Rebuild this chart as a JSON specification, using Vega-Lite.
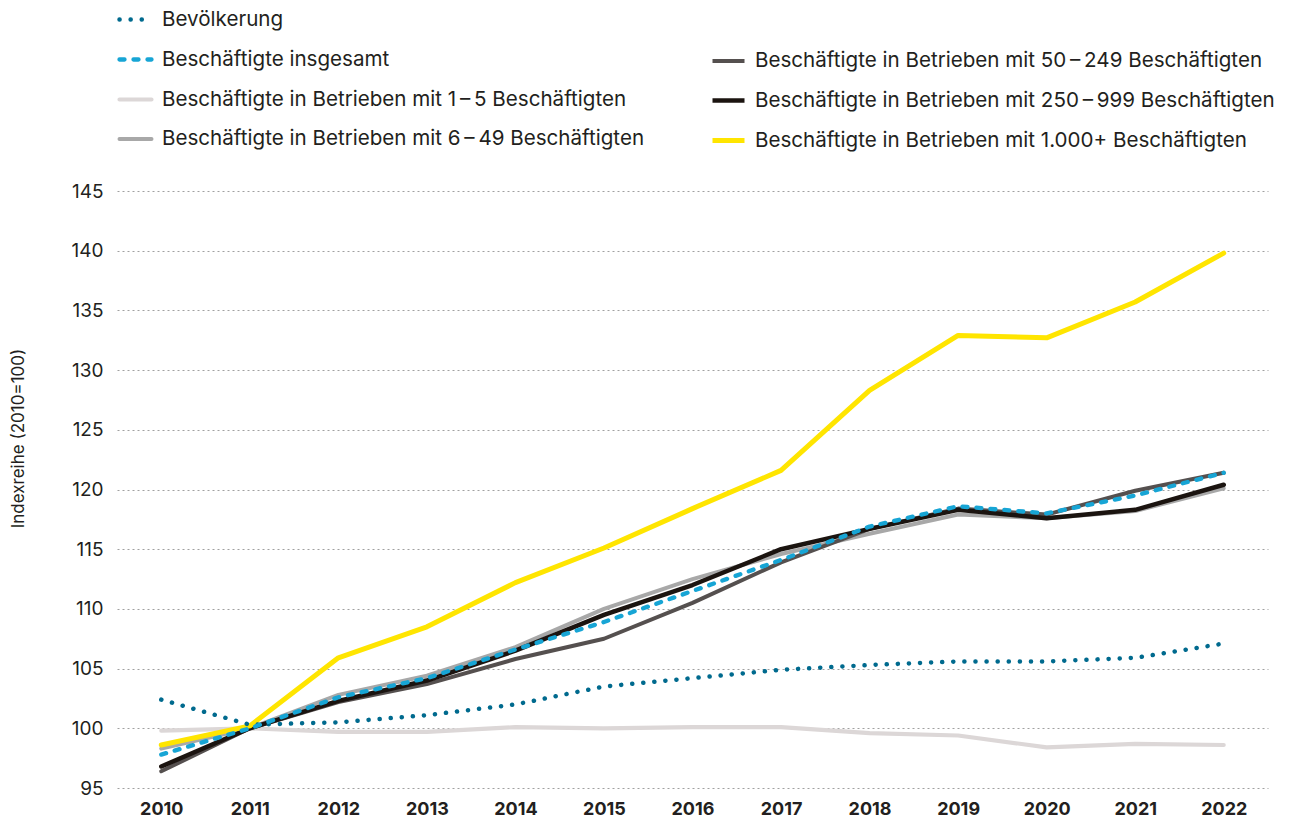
{
  "$schema": "https://vega.github.io/schema/vega-lite/v6.json",
  "width": 1151,
  "height": 597,
  "autosize": {"type": "none"},
  "padding": {"left": 117, "top": 191, "right": 22, "bottom": 37},
  "background": "white",
  "config": {
    "view": {"stroke": null},
    "font": "Inter",
    "axis": {"domain": false, "ticks": false, "labelColor": "#231f20"},
    "legend": {
      "orient": "none",
      "symbolType": "stroke",
      "symbolSize": 1024,
      "labelFontSize": 20.6,
      "labelColor": "#231f20",
      "labelOffset": 8,
      "labelLimit": 0,
      "rowPadding": 10,
      "padding": 0,
      "title": null
    }
  },
  "data": {
    "values": [
      {"Jahr": "2010", "Reihe": "Bevölkerung", "Wert": 102.4},
      {"Jahr": "2011", "Reihe": "Bevölkerung", "Wert": 100.3},
      {"Jahr": "2012", "Reihe": "Bevölkerung", "Wert": 100.5},
      {"Jahr": "2013", "Reihe": "Bevölkerung", "Wert": 101.1},
      {"Jahr": "2014", "Reihe": "Bevölkerung", "Wert": 102.0},
      {"Jahr": "2015", "Reihe": "Bevölkerung", "Wert": 103.5},
      {"Jahr": "2016", "Reihe": "Bevölkerung", "Wert": 104.2},
      {"Jahr": "2017", "Reihe": "Bevölkerung", "Wert": 104.9},
      {"Jahr": "2018", "Reihe": "Bevölkerung", "Wert": 105.3},
      {"Jahr": "2019", "Reihe": "Bevölkerung", "Wert": 105.6},
      {"Jahr": "2020", "Reihe": "Bevölkerung", "Wert": 105.6},
      {"Jahr": "2021", "Reihe": "Bevölkerung", "Wert": 105.9},
      {"Jahr": "2022", "Reihe": "Bevölkerung", "Wert": 107.1},
      {"Jahr": "2010", "Reihe": "Beschäftigte insgesamt", "Wert": 97.8},
      {"Jahr": "2011", "Reihe": "Beschäftigte insgesamt", "Wert": 100.0},
      {"Jahr": "2012", "Reihe": "Beschäftigte insgesamt", "Wert": 102.6},
      {"Jahr": "2013", "Reihe": "Beschäftigte insgesamt", "Wert": 104.2},
      {"Jahr": "2014", "Reihe": "Beschäftigte insgesamt", "Wert": 106.6},
      {"Jahr": "2015", "Reihe": "Beschäftigte insgesamt", "Wert": 108.9},
      {"Jahr": "2016", "Reihe": "Beschäftigte insgesamt", "Wert": 111.5},
      {"Jahr": "2017", "Reihe": "Beschäftigte insgesamt", "Wert": 114.1},
      {"Jahr": "2018", "Reihe": "Beschäftigte insgesamt", "Wert": 116.9},
      {"Jahr": "2019", "Reihe": "Beschäftigte insgesamt", "Wert": 118.6},
      {"Jahr": "2020", "Reihe": "Beschäftigte insgesamt", "Wert": 118.0},
      {"Jahr": "2021", "Reihe": "Beschäftigte insgesamt", "Wert": 119.5},
      {"Jahr": "2022", "Reihe": "Beschäftigte insgesamt", "Wert": 121.4},
      {"Jahr": "2010", "Reihe": "Beschäftigte in Betrieben mit 1\u2009–\u20095 Beschäftigten", "Wert": 99.8},
      {"Jahr": "2011", "Reihe": "Beschäftigte in Betrieben mit 1\u2009–\u20095 Beschäftigten", "Wert": 100.0},
      {"Jahr": "2012", "Reihe": "Beschäftigte in Betrieben mit 1\u2009–\u20095 Beschäftigten", "Wert": 99.7},
      {"Jahr": "2013", "Reihe": "Beschäftigte in Betrieben mit 1\u2009–\u20095 Beschäftigten", "Wert": 99.7},
      {"Jahr": "2014", "Reihe": "Beschäftigte in Betrieben mit 1\u2009–\u20095 Beschäftigten", "Wert": 100.1},
      {"Jahr": "2015", "Reihe": "Beschäftigte in Betrieben mit 1\u2009–\u20095 Beschäftigten", "Wert": 100.0},
      {"Jahr": "2016", "Reihe": "Beschäftigte in Betrieben mit 1\u2009–\u20095 Beschäftigten", "Wert": 100.1},
      {"Jahr": "2017", "Reihe": "Beschäftigte in Betrieben mit 1\u2009–\u20095 Beschäftigten", "Wert": 100.1},
      {"Jahr": "2018", "Reihe": "Beschäftigte in Betrieben mit 1\u2009–\u20095 Beschäftigten", "Wert": 99.6},
      {"Jahr": "2019", "Reihe": "Beschäftigte in Betrieben mit 1\u2009–\u20095 Beschäftigten", "Wert": 99.4},
      {"Jahr": "2020", "Reihe": "Beschäftigte in Betrieben mit 1\u2009–\u20095 Beschäftigten", "Wert": 98.4},
      {"Jahr": "2021", "Reihe": "Beschäftigte in Betrieben mit 1\u2009–\u20095 Beschäftigten", "Wert": 98.7},
      {"Jahr": "2022", "Reihe": "Beschäftigte in Betrieben mit 1\u2009–\u20095 Beschäftigten", "Wert": 98.6},
      {"Jahr": "2010", "Reihe": "Beschäftigte in Betrieben mit 6\u2009–\u200949 Beschäftigten", "Wert": 98.3},
      {"Jahr": "2011", "Reihe": "Beschäftigte in Betrieben mit 6\u2009–\u200949 Beschäftigten", "Wert": 100.0},
      {"Jahr": "2012", "Reihe": "Beschäftigte in Betrieben mit 6\u2009–\u200949 Beschäftigten", "Wert": 102.8},
      {"Jahr": "2013", "Reihe": "Beschäftigte in Betrieben mit 6\u2009–\u200949 Beschäftigten", "Wert": 104.4},
      {"Jahr": "2014", "Reihe": "Beschäftigte in Betrieben mit 6\u2009–\u200949 Beschäftigten", "Wert": 106.8},
      {"Jahr": "2015", "Reihe": "Beschäftigte in Betrieben mit 6\u2009–\u200949 Beschäftigten", "Wert": 110.0},
      {"Jahr": "2016", "Reihe": "Beschäftigte in Betrieben mit 6\u2009–\u200949 Beschäftigten", "Wert": 112.5},
      {"Jahr": "2017", "Reihe": "Beschäftigte in Betrieben mit 6\u2009–\u200949 Beschäftigten", "Wert": 114.6},
      {"Jahr": "2018", "Reihe": "Beschäftigte in Betrieben mit 6\u2009–\u200949 Beschäftigten", "Wert": 116.3},
      {"Jahr": "2019", "Reihe": "Beschäftigte in Betrieben mit 6\u2009–\u200949 Beschäftigten", "Wert": 117.9},
      {"Jahr": "2020", "Reihe": "Beschäftigte in Betrieben mit 6\u2009–\u200949 Beschäftigten", "Wert": 117.6},
      {"Jahr": "2021", "Reihe": "Beschäftigte in Betrieben mit 6\u2009–\u200949 Beschäftigten", "Wert": 118.2},
      {"Jahr": "2022", "Reihe": "Beschäftigte in Betrieben mit 6\u2009–\u200949 Beschäftigten", "Wert": 120.1},
      {"Jahr": "2010", "Reihe": "Beschäftigte in Betrieben mit 50\u2009–\u2009249 Beschäftigten", "Wert": 96.4},
      {"Jahr": "2011", "Reihe": "Beschäftigte in Betrieben mit 50\u2009–\u2009249 Beschäftigten", "Wert": 100.0},
      {"Jahr": "2012", "Reihe": "Beschäftigte in Betrieben mit 50\u2009–\u2009249 Beschäftigten", "Wert": 102.2},
      {"Jahr": "2013", "Reihe": "Beschäftigte in Betrieben mit 50\u2009–\u2009249 Beschäftigten", "Wert": 103.7},
      {"Jahr": "2014", "Reihe": "Beschäftigte in Betrieben mit 50\u2009–\u2009249 Beschäftigten", "Wert": 105.8},
      {"Jahr": "2015", "Reihe": "Beschäftigte in Betrieben mit 50\u2009–\u2009249 Beschäftigten", "Wert": 107.5},
      {"Jahr": "2016", "Reihe": "Beschäftigte in Betrieben mit 50\u2009–\u2009249 Beschäftigten", "Wert": 110.5},
      {"Jahr": "2017", "Reihe": "Beschäftigte in Betrieben mit 50\u2009–\u2009249 Beschäftigten", "Wert": 113.9},
      {"Jahr": "2018", "Reihe": "Beschäftigte in Betrieben mit 50\u2009–\u2009249 Beschäftigten", "Wert": 116.7},
      {"Jahr": "2019", "Reihe": "Beschäftigte in Betrieben mit 50\u2009–\u2009249 Beschäftigten", "Wert": 118.4},
      {"Jahr": "2020", "Reihe": "Beschäftigte in Betrieben mit 50\u2009–\u2009249 Beschäftigten", "Wert": 117.9},
      {"Jahr": "2021", "Reihe": "Beschäftigte in Betrieben mit 50\u2009–\u2009249 Beschäftigten", "Wert": 119.9},
      {"Jahr": "2022", "Reihe": "Beschäftigte in Betrieben mit 50\u2009–\u2009249 Beschäftigten", "Wert": 121.4},
      {"Jahr": "2010", "Reihe": "Beschäftigte in Betrieben mit 250\u2009–\u2009999 Beschäftigten", "Wert": 96.8},
      {"Jahr": "2011", "Reihe": "Beschäftigte in Betrieben mit 250\u2009–\u2009999 Beschäftigten", "Wert": 100.0},
      {"Jahr": "2012", "Reihe": "Beschäftigte in Betrieben mit 250\u2009–\u2009999 Beschäftigten", "Wert": 102.3},
      {"Jahr": "2013", "Reihe": "Beschäftigte in Betrieben mit 250\u2009–\u2009999 Beschäftigten", "Wert": 104.0},
      {"Jahr": "2014", "Reihe": "Beschäftigte in Betrieben mit 250\u2009–\u2009999 Beschäftigten", "Wert": 106.5},
      {"Jahr": "2015", "Reihe": "Beschäftigte in Betrieben mit 250\u2009–\u2009999 Beschäftigten", "Wert": 109.5},
      {"Jahr": "2016", "Reihe": "Beschäftigte in Betrieben mit 250\u2009–\u2009999 Beschäftigten", "Wert": 112.0},
      {"Jahr": "2017", "Reihe": "Beschäftigte in Betrieben mit 250\u2009–\u2009999 Beschäftigten", "Wert": 115.0},
      {"Jahr": "2018", "Reihe": "Beschäftigte in Betrieben mit 250\u2009–\u2009999 Beschäftigten", "Wert": 116.7},
      {"Jahr": "2019", "Reihe": "Beschäftigte in Betrieben mit 250\u2009–\u2009999 Beschäftigten", "Wert": 118.3},
      {"Jahr": "2020", "Reihe": "Beschäftigte in Betrieben mit 250\u2009–\u2009999 Beschäftigten", "Wert": 117.6},
      {"Jahr": "2021", "Reihe": "Beschäftigte in Betrieben mit 250\u2009–\u2009999 Beschäftigten", "Wert": 118.3},
      {"Jahr": "2022", "Reihe": "Beschäftigte in Betrieben mit 250\u2009–\u2009999 Beschäftigten", "Wert": 120.4},
      {"Jahr": "2010", "Reihe": "Beschäftigte in Betrieben mit 1.000+ Beschäftigten", "Wert": 98.6},
      {"Jahr": "2011", "Reihe": "Beschäftigte in Betrieben mit 1.000+ Beschäftigten", "Wert": 100.2},
      {"Jahr": "2012", "Reihe": "Beschäftigte in Betrieben mit 1.000+ Beschäftigten", "Wert": 105.9},
      {"Jahr": "2013", "Reihe": "Beschäftigte in Betrieben mit 1.000+ Beschäftigten", "Wert": 108.5},
      {"Jahr": "2014", "Reihe": "Beschäftigte in Betrieben mit 1.000+ Beschäftigten", "Wert": 112.2},
      {"Jahr": "2015", "Reihe": "Beschäftigte in Betrieben mit 1.000+ Beschäftigten", "Wert": 115.1},
      {"Jahr": "2016", "Reihe": "Beschäftigte in Betrieben mit 1.000+ Beschäftigten", "Wert": 118.4},
      {"Jahr": "2017", "Reihe": "Beschäftigte in Betrieben mit 1.000+ Beschäftigten", "Wert": 121.6},
      {"Jahr": "2018", "Reihe": "Beschäftigte in Betrieben mit 1.000+ Beschäftigten", "Wert": 128.3},
      {"Jahr": "2019", "Reihe": "Beschäftigte in Betrieben mit 1.000+ Beschäftigten", "Wert": 132.9},
      {"Jahr": "2020", "Reihe": "Beschäftigte in Betrieben mit 1.000+ Beschäftigten", "Wert": 132.7},
      {"Jahr": "2021", "Reihe": "Beschäftigte in Betrieben mit 1.000+ Beschäftigten", "Wert": 135.7},
      {"Jahr": "2022", "Reihe": "Beschäftigte in Betrieben mit 1.000+ Beschäftigten", "Wert": 139.8}
    ]
  },
  "encoding": {
    "x": {
      "field": "Jahr",
      "type": "ordinal",
      "scale": {"type": "point", "padding": 0.5},
      "axis": {"title": null, "labelAngle": 0, "labelFontSize": 18, "labelFontWeight": "bold", "labelPadding": 12, "grid": false}
    },
    "y": {
      "field": "Wert",
      "type": "quantitative",
      "scale": {"domain": [95, 145], "nice": false, "zero": false},
      "axis": {
        "title": "Indexreihe (2010=100)",
        "titleFontSize": 17,
        "titleFontWeight": "normal",
        "titleColor": "#231f20",
        "titleX": -99,
        "titleY": 247,
        "titleAlign": "center",
        "titleBaseline": "middle",
        "values": [95, 100, 105, 110, 115, 120, 125, 130, 135, 140, 145],
        "labelFontSize": 19,
        "labelPadding": 14,
        "grid": true,
        "gridDash": [2, 3],
        "gridColor": "#a0a0a0",
        "gridWidth": 1
      }
    }
  },
  "resolve": {"scale": {"stroke": "independent", "strokeDash": "independent", "strokeWidth": "independent", "color": "independent"}},
  "layer": [
    {
      "transform": [{"filter": {"field": "Reihe", "oneOf": ["Beschäftigte in Betrieben mit 1\u2009–\u20095 Beschäftigten", "Beschäftigte in Betrieben mit 6\u2009–\u200949 Beschäftigten"]}}],
      "mark": {"type": "line", "strokeCap": "round", "strokeJoin": "round"},
      "encoding": {
        "stroke": {
          "field": "Reihe", "type": "nominal", "legend": null,
          "scale": {
            "domain": ["Bevölkerung", "Beschäftigte insgesamt", "Beschäftigte in Betrieben mit 1\u2009–\u20095 Beschäftigten", "Beschäftigte in Betrieben mit 6\u2009–\u200949 Beschäftigten"],
            "range": ["#006a8e", "#17a5d5", "#dcd7d7", "#a8a8a8"]
          }
        },
        "strokeWidth": {
          "field": "Reihe", "type": "nominal", "legend": null,
          "scale": {
            "domain": ["Bevölkerung", "Beschäftigte insgesamt", "Beschäftigte in Betrieben mit 1\u2009–\u20095 Beschäftigten", "Beschäftigte in Betrieben mit 6\u2009–\u200949 Beschäftigten"],
            "range": [4.5, 4, 4, 7]
          }
        }
      }
    },
    {
      "transform": [{"filter": {"field": "Reihe", "oneOf": ["Beschäftigte in Betrieben mit 50\u2009–\u2009249 Beschäftigten", "Beschäftigte in Betrieben mit 250\u2009–\u2009999 Beschäftigten", "Beschäftigte in Betrieben mit 1.000+ Beschäftigten"]}}],
      "mark": {"type": "line", "strokeCap": "round", "strokeJoin": "round"},
      "encoding": {
        "color": {
          "field": "Reihe", "type": "nominal",
          "scale": {
            "domain": ["Beschäftigte in Betrieben mit 50\u2009–\u2009249 Beschäftigten", "Beschäftigte in Betrieben mit 250\u2009–\u2009999 Beschäftigten", "Beschäftigte in Betrieben mit 1.000+ Beschäftigten"],
            "range": ["#55504f", "#1b1410", "#ffe500"]
          },
          "legend": {"legendX": 593, "legendY": -148, "encode": {"symbols": {"update": {"strokeWidth": {"value": 5.5}}}}}
        },
        "strokeWidth": {
          "field": "Reihe", "type": "nominal",
          "scale": {
            "domain": ["Beschäftigte in Betrieben mit 50\u2009–\u2009249 Beschäftigten", "Beschäftigte in Betrieben mit 250\u2009–\u2009999 Beschäftigten", "Beschäftigte in Betrieben mit 1.000+ Beschäftigten"],
            "range": [4, 5, 4]
          },
          "legend": {"legendX": 593, "legendY": -148, "encode": {"symbols": {"update": {"strokeWidth": {"value": 5.5}}}}}
        }
      }
    },
    {
      "transform": [{"filter": {"field": "Reihe", "oneOf": ["Bevölkerung", "Beschäftigte insgesamt"]}}],
      "mark": {"type": "line", "strokeCap": "round", "strokeJoin": "round"},
      "encoding": {
        "stroke": {
          "field": "Reihe", "type": "nominal",
          "scale": {
            "domain": ["Bevölkerung", "Beschäftigte insgesamt", "Beschäftigte in Betrieben mit 1\u2009–\u20095 Beschäftigten", "Beschäftigte in Betrieben mit 6\u2009–\u200949 Beschäftigten"],
            "range": ["#006a8e", "#17a5d5", "#dcd7d7", "#a8a8a8"]
          },
          "legend": {"legendX": 0, "legendY": -190, "encode": {"symbols": {"update": {"strokeCap": {"value": "round"}, "strokeWidth": {"signal": "indexof(datum.value, '49') > 0 ? 9 : 5"}}}}}
        },
        "strokeWidth": {
          "field": "Reihe", "type": "nominal",
          "scale": {
            "domain": ["Bevölkerung", "Beschäftigte insgesamt", "Beschäftigte in Betrieben mit 1\u2009–\u20095 Beschäftigten", "Beschäftigte in Betrieben mit 6\u2009–\u200949 Beschäftigten"],
            "range": [4.5, 4, 4, 7]
          },
          "legend": {"legendX": 0, "legendY": -190, "encode": {"symbols": {"update": {"strokeCap": {"value": "round"}, "strokeWidth": {"signal": "indexof(datum.value, '49') > 0 ? 9 : 5"}}}}}
        },
        "strokeDash": {
          "field": "Reihe", "type": "nominal",
          "scale": {
            "domain": ["Bevölkerung", "Beschäftigte insgesamt", "Beschäftigte in Betrieben mit 1\u2009–\u20095 Beschäftigten", "Beschäftigte in Betrieben mit 6\u2009–\u200949 Beschäftigten"],
            "range": [[0.1, 11], [5, 9], [1, 0], [1, 0]]
          },
          "legend": {"legendX": 0, "legendY": -190, "encode": {"symbols": {"update": {"strokeCap": {"value": "round"}, "strokeWidth": {"signal": "indexof(datum.value, '49') > 0 ? 9 : 5"}}}}}
        }
      }
    }
  ]
}
